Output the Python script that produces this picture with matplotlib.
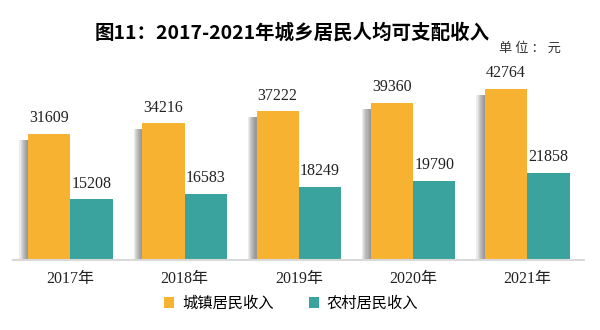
import numpy as np
import matplotlib.pyplot as plt
from matplotlib.patches import Rectangle

years = ['2017年', '2018年', '2019年', '2020年', '2021年']
urban = [31609, 34216, 37222, 39360, 42764]
rural = [15208, 16583, 18249, 19790, 21858]

serif = ['Liberation Serif', 'Noto Sans CJK SC']
sans = ['Noto Sans CJK SC', 'DejaVu Sans']

fig = plt.figure(figsize=(6, 3.3), dpi=100)
ax = fig.add_axes([0.022, 0.212, 0.952, 0.606])

x = np.arange(len(years))
w = 0.37
c_urban = '#F7B232'
c_rural = '#3AA39E'

# gray shadow strip on the left of the orange bars, darker next to the bar
n = 8
for i, v in enumerate(urban):
    for k in range(n):
        sw = 0.075 * (n - k) / n
        ax.add_patch(Rectangle((x[i] - w - sw, 0), sw, v - 1500, color='#6a6a6a',
                               alpha=0.13, lw=0, zorder=1))

b1 = ax.bar(x - w / 2, urban, w, color=c_urban, label='城镇居民收入', zorder=2)
b2 = ax.bar(x + w / 2, rural, w, color=c_rural, label='农村居民收入', zorder=2)

for xi, v in zip(x - w / 2, urban):
    ax.text(xi, v + 1900, str(v), ha='center', va='bottom', fontsize=11.5,
            family=serif, color='#222222')
for xi, v in zip(x + w / 2, rural):
    ax.text(xi, v + 1900, str(v), ha='center', va='bottom', fontsize=11.5,
            family=serif, color='#222222')

ax.set_xlim(-0.5, 4.5)
ax.set_ylim(0, 50000)
ax.set_xticks(x)
ax.set_xticklabels(years, family=serif, fontsize=11.5, color='#222222')
ax.tick_params(axis='x', length=0, pad=8)
ax.set_yticks([])
for s in ['top', 'right', 'left']:
    ax.spines[s].set_visible(False)
ax.spines['bottom'].set_color('#D9D9D9')
ax.spines['bottom'].set_linewidth(1.5)

fig.text(0.487, 0.9, '图11：2017-2021年城乡居民人均可支配收入', ha='center', va='center',
         fontsize=14, fontweight='bold', family=sans)
fig.text(0.832, 0.855, '单 位 ： 元', ha='left', va='center', fontsize=9.5,
         family=sans, color='#333333')

leg = fig.legend(handles=[b1, b2], loc='center', bbox_to_anchor=(0.485, 0.08), ncol=2,
                 frameon=False, prop={'family': sans, 'size': 11},
                 handlelength=0.7, handleheight=0.7, handletextpad=0.5, columnspacing=2.3)

fig.savefig('out.png', dpi=100)
